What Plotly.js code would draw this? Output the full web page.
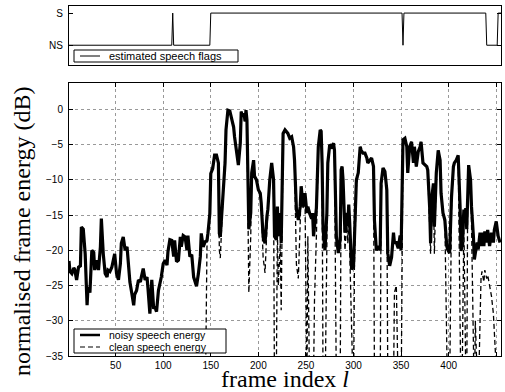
<!DOCTYPE html>
<html>
<head>
<meta charset="utf-8">
<script src="https://cdn.plot.ly/plotly-3.0.1.min.js"></script>
<style>html,body{margin:0;padding:0;background:#fff;}#chart{width:505px;height:392px;}</style>
</head>
<body>
<div id="chart"></div>
<script>
// ---- data ----
const frames = [
  1,2,4,6,7,9,11,13,14,16,18,20,21,23,25,27,28,30,
  32,34,35,37,39,41,42,44,46,48,49,51,53,55,56,58,60,62,63,
  65,67,69,70,72,74,76,77,79,81,83,84,86,88,90,91,93,95,97,98,
  100,102,104,105,107,109,111,112,114,116,118,119,121,123,125,126,128,130,132,133,
  135,137,139,140,142,144,146,147,149,150,151,152,154,156,158,159,160,161,163,165,
  166,168,170,172,174,175,177,179,181,182,183,185,186,187,188,189,190,192,193,195,
  196,198,200,202,203,205,207,209,210,212,214,216,217,219,220,221,223,224,226,228,
  230,231,233,235,237,238,240,242,244,245,247,249,251,252,254,256,257,258,259,261,
  263,265,266,267,268,270,272,273,275,277,279,280,282,284,286,287,288,289,291,293,
  294,295,296,298,300,301,303,305,307,308,310,312,314,315,317,319,321,322,324,326,
  328,329,331,333,335,336,338,340,342,343,345,347,349,350,352,354,356,357,359,361,
  363,364,366,368,370,371,373,375,377,378,380,381,382,384,385,387,389,391,392,394,
  396,398,399,401,403,405,406,408,410,412,413,414,416,417,418,419,420,421,423,424,
  426,427,428,430,431,433,434,435,437,438,440,441,443,445,447,448,450,452,454
];
const noisyEnergy = [
  -21.5,-23,-23.3,-22.5,-22.7,-24.2,-22.4,-22.2,-16.7,-17,-20.5,-27.8,-25.2,-26,-20,-20.3,-22.8,-21.4,
  -22.8,-19.5,-15.5,-20.5,-23.3,-23.8,-22.8,-23,-22.4,-21.2,-20.5,-23.3,-24.2,-21.9,-19,-18.1,-20,-19.5,-21.4,
  -24.5,-26.1,-27.8,-26.3,-25.7,-24.2,-24.5,-23.8,-22.6,-24.2,-23.8,-25.4,-29,-24.2,-28.3,-28,-28.7,-25.7,-24.5,-23.8,
  -21.9,-21.4,-22.1,-20.2,-18.5,-18.6,-20.9,-18.6,-21.6,-21.4,-18.1,-19.5,-17.9,-18.1,-20,-17.9,-20.9,-20.6,-23.8,-24.2,
  -25.1,-23.3,-20.9,-17.6,-19.5,-18.8,-18.6,-17.6,-14.8,-9.1,-8.6,-8.4,-6.5,-6.5,-7.6,-17.6,-18.1,-16.2,-11.9,-7.6,
  -2.9,-0.1,-0.2,-1.5,-2.5,-3.9,-5.8,-7.9,-4.8,-0.3,-1,-0.6,-1.7,-0.1,-1.5,-14.7,-17,-14.7,-9,-7.2,
  -9.5,-10,-11.4,-11.9,-13.3,-18,-19,-15.2,-14.2,-10,-7.6,-10,-18,-18.5,-13.8,-18,-14.7,-19,-3.4,-2.9,
  -3.2,-3.4,-4.1,-3.9,-5.3,-7.2,-14.2,-15.7,-13.8,-10.9,-13.8,-11.9,-14.7,-13.8,-14.8,-15.5,-14.7,-18,-16.6,-14,
  -5.3,-2.9,-3.1,-7.6,-17,-20,-14.7,-7.6,-5,-5.3,-4.8,-5.8,-18,-20.4,-18.5,-8.6,-8.1,-10,-17.5,-14.7,
  -16.6,-13.5,-16.1,-22.7,-22.3,-18,-10,-9,-5.3,-5.8,-6.2,-6.2,-6.9,-7.6,-7.2,-6.9,-8.1,-15.7,-20,-19.4,
  -20,-10.5,-8.3,-8.8,-11.4,-20.4,-22.2,-21,-17.5,-18.9,-18.9,-19.7,-17.9,-20,-4.3,-4.1,-5.3,-9,-5.3,-4.6,
  -7.6,-5.3,-8.1,-6,-5.3,-4.6,-7.6,-7.9,-8.1,-8.6,-13.8,-19,-12.8,-10.5,-16.6,-9,-5.8,-7.2,-11.9,-14.7,
  -15.7,-19.4,-19.9,-20.4,-12.4,-8.1,-7.6,-7.2,-6.5,-13.8,-20.1,-19.4,-14.2,-15.7,-14,-17,-10.5,-7.9,-10,-13.8,
  -18,-21.3,-20.4,-18.9,-19.9,-17.5,-19.4,-17.5,-19.4,-17.3,-18.9,-17.1,-19.4,-17.5,-18.9,-17.1,-15.9,-18,-18.9
];
const cleanEnergy = [
  -45,-45,-45,-45,-45,-45,-45,-45,-45,-45,-45,-45,-45,-45,-45,-45,-45,-45,
  -45,-45,-45,-45,-45,-45,-45,-45,-45,-45,-45,-45,-45,-45,-45,-45,-45,-45,-45,
  -45,-45,-45,-45,-45,-45,-45,-45,-45,-45,-45,-45,-45,-45,-45,-45,-45,-45,-45,-45,
  -45,-45,-45,-45,-45,-45,-45,-45,-45,-45,-45,-45,-45,-45,-45,-45,-45,-45,-45,-45,
  -45,-45,-45,-45,-45,-45,-19.5,-18,-15,-9.3,-8.6,-8.4,-6.5,-6.5,-8,-20,-21.1,-18,-12.2,-7.6,
  -2.9,-0.1,-0.2,-1.5,-2.5,-3.9,-5.8,-7.9,-4.8,-0.3,-1,-0.6,-1.7,-0.1,-1.5,-20,-26,-18,-9.2,-7.2,
  -9.5,-10,-11.4,-11.9,-13.5,-21,-23.2,-17,-14.2,-10,-7.6,-12,-42,-36,-17,-25,-19,-28.5,-3.6,-2.9,
  -3.2,-3.4,-4.1,-3.9,-5.3,-8,-22,-24,-16,-11,-14,-12,-40,-18,-42,-41,-40,-38,-27,-18,
  -5.5,-2.9,-3.1,-8,-40,-42,-18,-7.8,-5,-5.3,-4.8,-6,-40,-42,-40,-9,-8.1,-10.2,-20,-16,
  -19,-14,-20,-40,-42,-22,-11,-9,-5.3,-5.8,-6.2,-6.2,-6.9,-7.6,-7.2,-6.9,-8.3,-38,-42,-40,
  -42,-12,-8.3,-8.8,-12,-38,-42,-40,-40,-26,-25,-40,-38,-42,-4.5,-4.1,-5.3,-9,-5.3,-4.6,
  -7.6,-5.3,-8.1,-6,-5.3,-4.6,-7.6,-7.9,-8.1,-8.6,-16,-20.5,-14,-12,-20.5,-9,-5.8,-7.2,-11.9,-15,
  -16,-38,-42,-40,-14,-8.1,-7.6,-7.2,-6.5,-30,-42,-40,-16,-30,-38,-40,-12,-7.9,-10,-16,
  -40,-42,-30,-40,-42,-30,-24,-23,-24.5,-22.8,-24,-23.5,-25,-26.5,-29,-33,-38,-42,-40
];
// speech flag: 0 = NS, 1 = S
const flagFrames = [1,109,110,111,149,150,351,352,353,439,440,451,452,455];
const flagValues = [0,0,1,0,0,1,1,0,1,1,0,0,1,1];
const flagTickVals = [0,1];
const flagTickText = ['NS','S'];
const xTicks = [50,100,150,200,250,300,350,400,450];
const yTicks = [-35,-30,-25,-20,-15,-10,-5,0];
const seriesNames = ['noisy speech energy','clean speech energy','estimated speech flags'];
const xTitle = 'frame index <i>l</i>';
const yTitle = 'normalised frame energy (dB)';

const sansFam = 'Liberation Sans, Arial, sans-serif';
const tickFont = {family:sansFam, size:10, color:'#000'};
const serif = {family:'Liberation Serif, Times New Roman, serif', size:24, color:'#000'};
const legFont = {family:sansFam, size:10.5, color:'#000'};

const traces = [
  {x:frames, y:cleanEnergy, type:'scatter', mode:'lines', name:seriesNames[1],
   line:{color:'#000', width:1.3, dash:'5px,3px'}, xaxis:'x', yaxis:'y'},
  {x:frames, y:noisyEnergy, type:'scatter', mode:'lines', name:seriesNames[0],
   line:{color:'#000', width:3.2}, xaxis:'x', yaxis:'y'},
  {x:flagFrames, y:flagValues, type:'scatter', mode:'lines', name:seriesNames[2],
   line:{color:'#000', width:1}, xaxis:'x2', yaxis:'y2'}
];

// hand-built legend boxes (MATLAB style, compact)
const px = v => (v-69)/432;      // paper x from pixel
const py = v => (356-v)/350;     // paper y from pixel
const shapes = [
  {type:'rect', xref:'paper', yref:'paper', x0:px(74), x1:px(238), y0:py(62), y1:py(50),
   line:{color:'#000', width:1}, fillcolor:'#fff'},
  {type:'line', xref:'paper', yref:'paper', x0:px(80), x1:px(100), y0:py(56), y1:py(56),
   line:{color:'#000', width:1}},
  {type:'rect', xref:'paper', yref:'paper', x0:px(74), x1:px(226), y0:py(353), y1:py(329),
   line:{color:'#000', width:1}, fillcolor:'#fff'},
  {type:'line', xref:'paper', yref:'paper', x0:px(80), x1:px(100), y0:py(335), y1:py(335),
   line:{color:'#000', width:2.5}},
  {type:'line', xref:'paper', yref:'paper', x0:px(80), x1:px(100), y0:py(347), y1:py(347),
   line:{color:'#000', width:1.2, dash:'5px,3px'}}
];
const annotations = [
  {xref:'paper', yref:'paper', x:px(107), y:py(56), xanchor:'left', yanchor:'middle',
   text:seriesNames[2], showarrow:false, font:{family:sansFam, size:11, color:'#000'}},
  {xref:'paper', yref:'paper', x:px(107), y:py(335), xanchor:'left', yanchor:'middle',
   text:seriesNames[0], showarrow:false, font:legFont},
  {xref:'paper', yref:'paper', x:px(107), y:py(347), xanchor:'left', yanchor:'middle',
   text:seriesNames[1], showarrow:false, font:legFont},
  {xref:'paper', yref:'paper', x:px(22), y:py(232), xanchor:'center', yanchor:'middle',
   textangle:-90, text:yTitle, showarrow:false, font:serif}
];

const layout = {
  width:505, height:392,
  margin:{l:69, r:4, t:6, b:36},
  paper_bgcolor:'#fff', plot_bgcolor:'#fff',
  showlegend:false,
  shapes:shapes, annotations:annotations,
  xaxis:{domain:[0,1], anchor:'y', range:[1,455], tickvals:xTicks, ticks:'inside', ticklen:4,
    tickcolor:'#000', showline:true, linecolor:'#000', linewidth:1, mirror:'ticks',
    showgrid:true, gridcolor:'#999', gridwidth:1, griddash:'dot', zeroline:false,
    tickfont:tickFont,
    title:{text:xTitle, font:serif}},
  yaxis:{domain:[0,0.781], anchor:'x', range:[-35,3.8], tickvals:yTicks, ticks:'inside', ticklen:4,
    tickcolor:'#000', showline:true, linecolor:'#000', linewidth:1, mirror:'ticks',
    showgrid:true, gridcolor:'#999', gridwidth:1, griddash:'dot', zeroline:false,
    tickfont:tickFont, ticklabelstandoff:3},
  xaxis2:{domain:[0,1], anchor:'y2', range:[1,455], showticklabels:false, ticks:'',
    showline:true, linecolor:'#000', linewidth:1, mirror:true, showgrid:false, zeroline:false},
  yaxis2:{domain:[0.831,1], anchor:'x2', range:[-0.62,1.22], tickvals:flagTickVals, ticktext:flagTickText,
    ticks:'inside', ticklen:4, tickcolor:'#000', showline:true, linecolor:'#000', linewidth:1,
    mirror:'ticks', showgrid:false, zeroline:false, tickfont:tickFont, ticklabelstandoff:3}
};

Plotly.newPlot('chart', traces, layout, {staticPlot:true, displayModeBar:false});
</script>
</body>
</html>
